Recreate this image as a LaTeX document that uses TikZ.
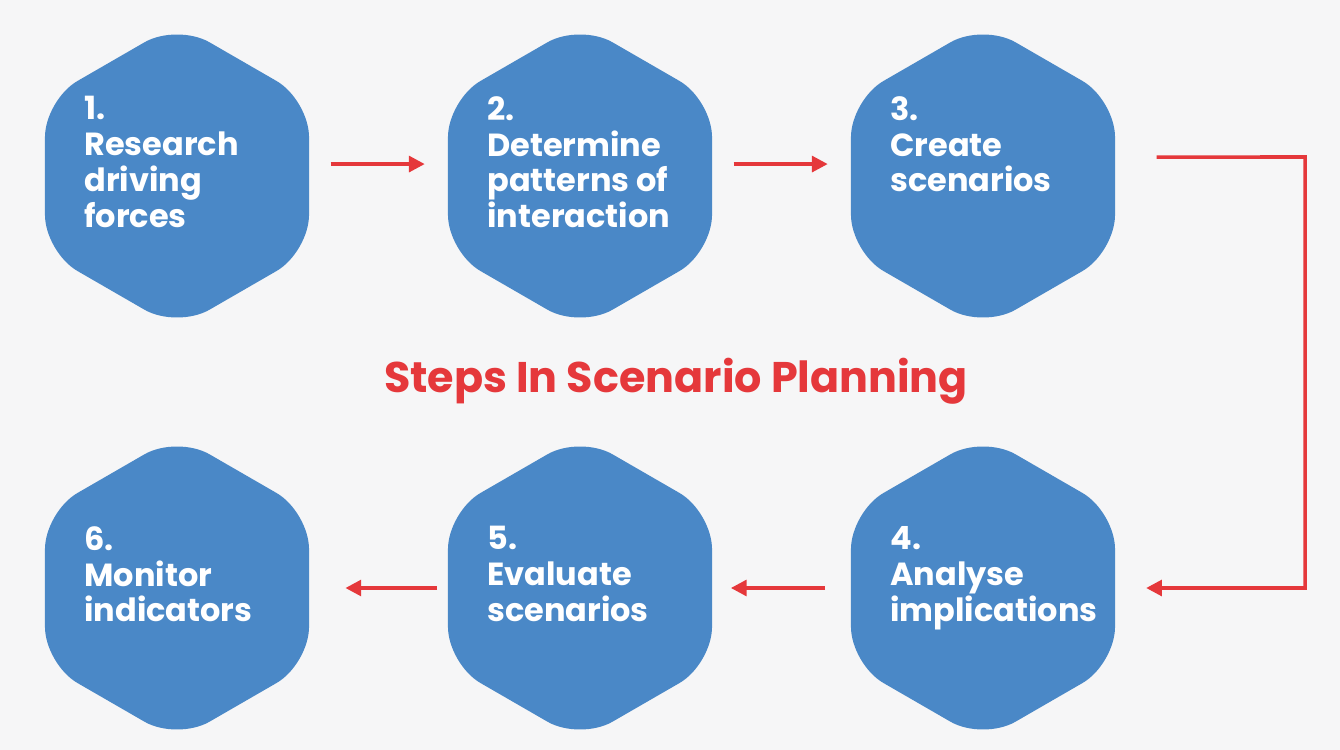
\documentclass[tikz,border=0pt]{standalone}
\usepackage{fontspec}
\setmainfont{Poppins}
\usetikzlibrary{positioning, arrows.meta, shapes.geometric}

\definecolor{hexblue}{HTML}{4A88C7}
\definecolor{flowred}{HTML}{E5383B}
\definecolor{paper}{HTML}{F6F6F7}

\tikzset{
  hexbox/.style={regular polygon, regular polygon sides=6, shape border rotate=30,
    minimum size=6.1cm, rounded corners=0.75cm, fill=hexblue, inner sep=0pt},
  steptext/.style={anchor=north west, text=white, align=left, inner sep=0pt,
    font=\fontsize{18.2}{20.4}\selectfont\bfseries},
  flow/.style={-{Triangle[length=9pt,width=9pt]}, flowred, line width=2pt}
}

\begin{document}
\begin{tikzpicture}[x=0.02cm, y=-0.02cm]
\fill[paper] (0,0) rectangle (1340,750);
\useasboundingbox (0,0) rectangle (1340,750);

% hexagons
\node[hexbox] (h1) at (177,176) {};
\node[hexbox] (h2) at (580,176) {};
\node[hexbox] (h3) at (983,176) {};
\node[hexbox] (h4) at (983,588) {};
\node[hexbox] (h5) at (580,588) {};
\node[hexbox] (h6) at (177,588) {};

% labels
\node[steptext] (t1) at (84,96) {1.\\Research\\driving\\forces};
\node[steptext] (t2) at (487,96) {2.\\Determine\\patterns of\\interaction};
\node[steptext] (t3) at (890,96) {3.\\Create\\scenarios};
\node[steptext] (t4) at (890,526) {4.\\Analyse\\implications};
\node[steptext] (t5) at (487,526) {5.\\Evaluate\\scenarios};
\node[steptext] (t6) at (84,526) {6.\\Monitor\\indicators};

\node[text=flowred, font=\fontsize{24.4}{28}\selectfont\bfseries] (title) at (676,381) {Steps In Scenario Planning};

% connectors
\coordinate (c1) at (1305,157);
\coordinate (c2) at (1305,588);
\draw[flow] ([xshift=12pt,yshift=6.8pt]h1.east) -- ([xshift=-13pt,yshift=6.8pt]h2.west);
\draw[flow] ([xshift=12pt,yshift=6.8pt]h2.east) -- ([xshift=-13pt,yshift=6.8pt]h3.west);
\draw[flow] ([xshift=23.5pt,yshift=10.8pt]h3.east) -- (c1) -- (c2) -- ([xshift=17.5pt]h4.east);
\draw[flow] ([xshift=-14.5pt]h4.west) -- ([xshift=10.5pt]h5.east);
\draw[flow] ([xshift=-6pt]h5.west) -- ([xshift=20.5pt]h6.east);
\end{tikzpicture}
\end{document}
